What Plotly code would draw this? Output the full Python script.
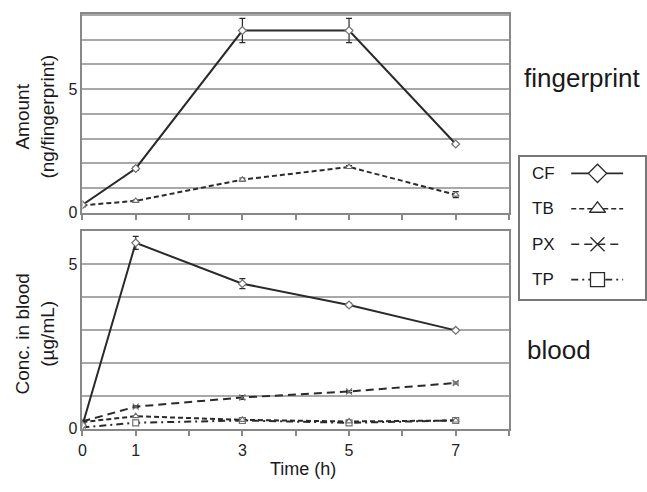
import plotly.graph_objects as go

time_h = [0, 1, 3, 5, 7]

# Fingerprint (ng/fingerprint)
fp_cf = [0.32, 1.79, 7.37, 7.37, 2.78]
fp_cf_err = [0.03, 0.08, 0.49, 0.49, 0.05]
fp_tb = [0.30, 0.48, 1.34, 1.85, 0.73]
fp_tb_err = [0.02, 0.03, 0.06, 0.06, 0.12]

# Blood (ug/mL)
bl_cf = [0.10, 5.65, 4.41, 3.76, 2.99]
bl_cf_err = [0.02, 0.20, 0.15, 0.05, 0.04]
bl_tb = [0.20, 0.38, 0.27, 0.22, 0.25]
bl_px = [0.22, 0.67, 0.95, 1.13, 1.39]
bl_px_err = [0.02, 0.03, 0.06, 0.03, 0.03]
bl_tp = [0.04, 0.18, 0.25, 0.18, 0.25]

series_names = ["CF", "TB", "PX", "TP"]
series_dash = ["solid", "5px,3px", "8px,5px", "7px,4px,2px,4px"]
series_symbol = ["diamond", "triangle-up", "x-thin", "square"]

x_tickvals = list(range(0, 9))
x_ticktext = ["0", "1", "", "3", "", "5", "", "7", ""]

line_col = "#2a2a2a"
mk_col = "#707070"
grid_col = "#a8a8a8"
font_fam = "Liberation Sans, Arial, sans-serif"

fig = go.Figure()


def add_series(x, y, err, idx, xa, ya):
    fig.add_trace(go.Scatter(
        x=x, y=y, mode="lines+markers", xaxis=xa, yaxis=ya, showlegend=False,
        line=dict(color=line_col, width=2, dash=series_dash[idx]),
        marker=dict(symbol=series_symbol[idx], size=6, color="white",
                    line=dict(color=mk_col, width=1.2)),
        error_y=(dict(type="data", array=err, visible=True, color=line_col,
                      thickness=1.2, width=3) if err is not None else None),
    ))


# top panel (fingerprint)
add_series(time_h, fp_tb, fp_tb_err, 1, "x", "y")
add_series(time_h, fp_cf, fp_cf_err, 0, "x", "y")
# bottom panel (blood)
add_series(time_h, bl_tp, None, 3, "x2", "y2")
add_series(time_h, bl_tb, None, 1, "x2", "y2")
add_series(time_h, bl_px, bl_px_err, 2, "x2", "y2")
add_series(time_h, bl_cf, bl_cf_err, 0, "x2", "y2")

# custom legend (text left, line sample with marker right)
for i, name in enumerate(series_names):
    fig.add_trace(go.Scatter(
        x=[0.41, 0.825], y=[i, i], mode="lines", xaxis="x3", yaxis="y3",
        showlegend=False, hoverinfo="skip",
        line=dict(color=line_col, width=1.6, dash=series_dash[i])))
    fig.add_trace(go.Scatter(
        x=[0.62], y=[i], mode="markers", xaxis="x3", yaxis="y3",
        showlegend=False, hoverinfo="skip",
        marker=dict(symbol=series_symbol[i], size=14, color="white",
                    line=dict(color=line_col, width=1.3))))
    fig.add_annotation(x=0.08, y=i, xref="x3", yref="y3", text=name,
                       showarrow=False, xanchor="left", yanchor="middle",
                       font=dict(size=17, color="#1a1a1a", family=font_fam))

W, H = 647, 492
px = lambda v: v / W
py = lambda v: 1 - v / H

xa_common = dict(range=[0, 8], tickvals=x_tickvals, ticktext=x_ticktext,
                 ticks="outside", ticklen=6, tickcolor="#888", tickwidth=1.5,
                 showline=True, linecolor="#888", linewidth=1.5, mirror=True,
                 showgrid=False, zeroline=False,
                 tickfont=dict(size=16, color="#222", family=font_fam))
ya_common = dict(showline=True, linecolor="#888", linewidth=1.5, mirror=True,
                 showgrid=True, gridcolor=grid_col, gridwidth=1.5,
                 zeroline=False, ticks="",
                 tickfont=dict(size=16, color="#222", family=font_fam))

fig.update_layout(
    width=W, height=H, margin=dict(l=0, r=0, t=0, b=0),
    paper_bgcolor="white", plot_bgcolor="white",
    font=dict(family=font_fam, color="#222"),
    xaxis=dict(domain=[px(79), px(509)], anchor="y", showticklabels=False,
               **xa_common),
    yaxis=dict(domain=[py(216.7), py(14)], anchor="x", range=[0, 8.05],
               tickvals=list(range(0, 9)),
               ticktext=["0", "", "", "", "", "5", "", "", ""], **ya_common),
    xaxis2=dict(domain=[px(79), px(509)], anchor="y2", **xa_common),
    yaxis2=dict(domain=[py(436.7), py(235)], anchor="x2", range=[0, 6.02],
                tickvals=list(range(0, 7)),
                ticktext=["0", "", "", "", "", "5", ""], **ya_common),
    xaxis3=dict(domain=[px(520), px(646)], anchor="y3", range=[0, 1],
                showticklabels=False, ticks="", showgrid=False, zeroline=False,
                showline=True, linecolor="#777", linewidth=1.5, mirror=True),
    yaxis3=dict(domain=[py(305), py(160)], anchor="x3", range=[3.56, -0.46],
                showticklabels=False, ticks="", showgrid=False, zeroline=False,
                showline=True, linecolor="#777", linewidth=1.5, mirror=True),
)


def label(x, y, text, size, angle=0):
    fig.add_annotation(x=px(x), y=py(y), xref="paper", yref="paper",
                       text=text, textangle=angle, showarrow=False,
                       xanchor="center", yanchor="middle",
                       font=dict(size=size, color="#1a1a1a", family=font_fam))


label(31, 119, "Amount<br>(ng/fingerprint)", 19, -90)
label(31, 340, "Conc. in blood<br>(µg/mL)", 19, -90)
label(301, 478, "Time (h)", 18)
label(583, 79, "fingerprint", 26)
label(559, 357, "blood", 26)

fig.write_html("out.html")
